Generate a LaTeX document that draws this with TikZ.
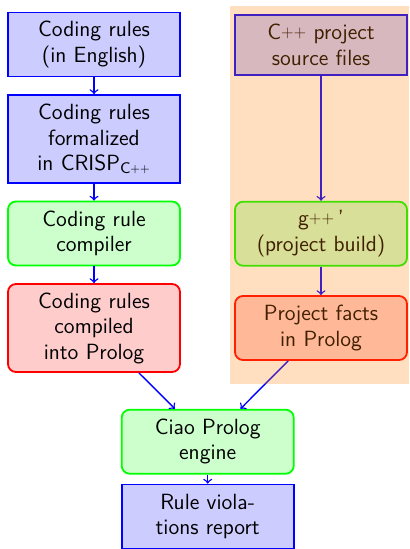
\documentclass[tikz,border=0pt]{standalone}
\newcommand\pp{\raisebox{.2ex}{\scalebox{0.75}{++}}}
\begin{document}
\begin{tikzpicture}[x=1pt,y=1pt,
  base/.style={draw, line width=0.9pt, minimum width=86pt, text width=80pt, align=center, inner sep=3pt, font=\fontsize{11}{12.75}\selectfont\sffamily},
  two/.style={minimum height=32pt},
  three/.style={minimum height=44pt},
  bluebox/.style={base, draw=blue, fill=blue!20},
  greenbox/.style={base, rounded corners=4pt, draw=green, fill=green!20},
  redbox/.style={base, rounded corners=4pt, draw=red, fill=red!20},
  arr/.style={->, draw=blue, line width=0.7pt}]
\useasboundingbox (0,0) rectangle (204.5,-274.5);
\node[bluebox, two] (n1) at (47,-22.25) {Coding rules\\(in English)};
\node[bluebox, three] (n2) at (47,-69.5) {Coding rules\\formalized\\in CRISP\textsubscript{C\pp}};
\node[greenbox, two] (n3) at (47,-116.75) {Coding rule\\compiler};
\node[redbox, three] (n4) at (47,-164) {Coding rules\\compiled\\into Prolog};
\node[greenbox, two] (ciao) at (103.85,-220.85) {Ciao Prolog\\engine};
\node[bluebox, two] (rep) at (103.85,-258.25) {Rule viola-\\tions report};
\node[bluebox, two, minimum height=30pt] (src) at (160.5,-22.5) {C\pp{} project\\source files};
\node[greenbox, two] (gpp) at (160.5,-116.85) {g\pp\,'\\(project build)};
\node[redbox, two] (facts) at (160.5,-164) {Project facts\\in Prolog};
\draw[arr] (n1) -- (n2);
\draw[arr] (n2) -- (n3);
\draw[arr] (n3) -- (n4);
\draw[arr] (n4) -- (ciao);
\draw[arr] (ciao) -- (rep);
\draw[arr] (src) -- (gpp);
\draw[arr] (gpp) -- (facts);
\draw[arr] (facts) -- (ciao);
\fill[orange, opacity=0.25] (115,-3) rectangle (204.5,-192);
\end{tikzpicture}
\end{document}
